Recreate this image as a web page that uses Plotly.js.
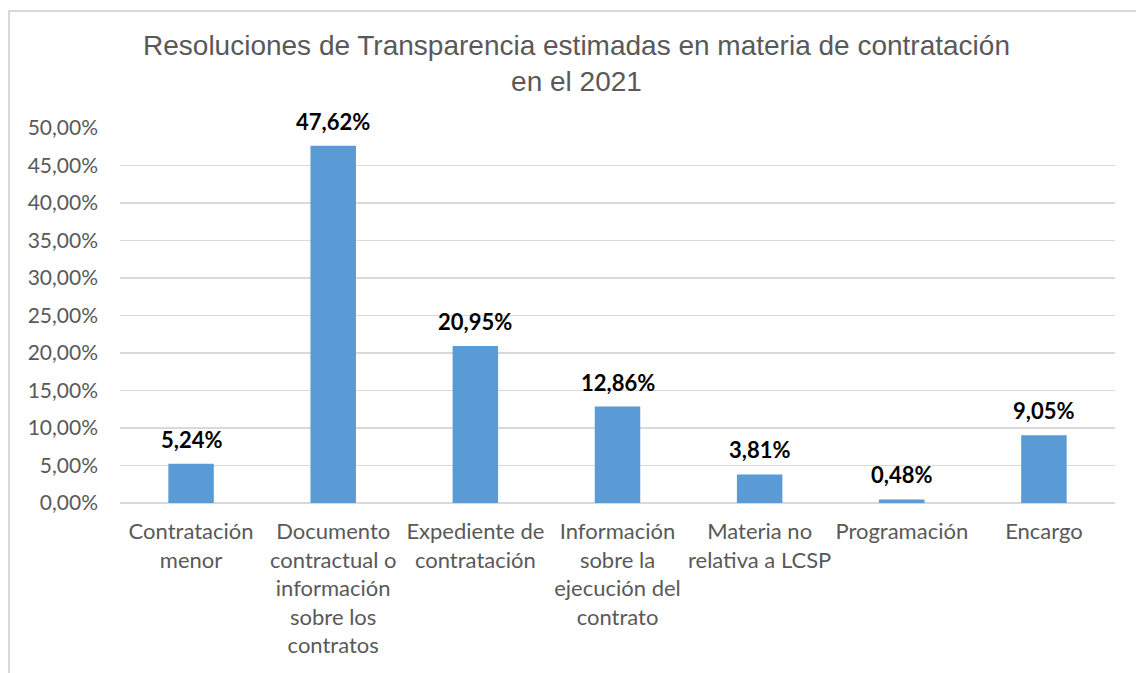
<!DOCTYPE html>
<html>
<head>
<meta charset="utf-8">
<script src="https://cdn.plot.ly/plotly-3.0.1.min.js"></script>
<style>
  html, body { margin: 0; padding: 0; background: #fff; }
  #chart {
    position: absolute; left: 8px; top: 10px;
    width: 1128px; height: 663px;
    border-top: 2px solid #d9d9d9; border-left: 2px solid #d9d9d9;
    box-sizing: border-box;
  }
</style>
</head>
<body>
<div id="chart"></div>
<script>
const categories = [
  "Contratación<br>menor",
  "Documento<br>contractual o<br>información<br>sobre los<br>contratos",
  "Expediente de<br>contratación",
  "Información<br>sobre la<br>ejecución del<br>contrato",
  "Materia no<br>relativa a LCSP",
  "Programación",
  "Encargo"
];
const values = [0.0524, 0.4762, 0.2095, 0.1286, 0.0381, 0.0048, 0.0905];
const yTicks = [0, 0.05, 0.10, 0.15, 0.20, 0.25, 0.30, 0.35, 0.40, 0.45, 0.50];

const fmt = v => (v * 100).toFixed(2).replace(".", ",") + "%";
const xs = categories.map((c, i) => i);

const trace = {
  x: xs,
  y: values,
  type: "bar",
  marker: { color: "#5b9bd5" },
  hoverinfo: "none"
};

const labels = values.map((v, i) => ({
  x: i, y: v, xref: "x", yref: "y",
  text: "<b>" + fmt(v) + "</b>",
  showarrow: false, yanchor: "bottom", yshift: 9,
  font: { family: "Lato, sans-serif", size: 22, color: "#000" }
}));

const layout = {
  width: 1124, height: 661,
  margin: { l: 110, r: 19, t: 116, b: 170 },
  paper_bgcolor: "#fff",
  plot_bgcolor: "#fff",
  separators: ",.",
  title: {
    text: "Resoluciones de Transparencia estimadas en materia de contratación<br>en el 2021",
    x: 0.504, xref: "container", xanchor: "center",
    y: 0.935, yanchor: "top",
    font: { family: "Liberation Sans, Arial, sans-serif", size: 28, color: "#595959" }
  },
  xaxis: {
    tickvals: xs,
    ticktext: categories,
    range: [-0.5, 6.5],
    showline: false, showgrid: false, ticks: "",
    tickfont: { family: "Lato, sans-serif", size: 22, color: "#595959" },
    ticklabelstandoff: 13
  },
  yaxis: {
    range: [0, 0.5],
    tickvals: yTicks,
    tickformat: ".2%",
    showgrid: true, gridcolor: "#d9d9d9", gridwidth: 1.5,
    zeroline: true, zerolinecolor: "#d9d9d9", zerolinewidth: 1.5,
    showline: false, ticks: "",
    tickfont: { family: "Lato, sans-serif", size: 21, color: "#595959" },
    ticklabelstandoff: 21
  },
  bargap: 0.68,
  annotations: labels,
  showlegend: false
};

Plotly.newPlot("chart", [trace], layout, { displayModeBar: false, staticPlot: true });
</script>
</body>
</html>
